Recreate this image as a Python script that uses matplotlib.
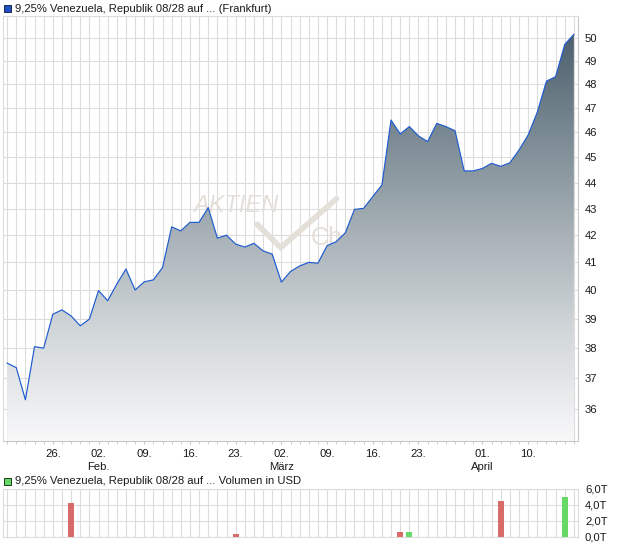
import numpy as np
import matplotlib
matplotlib.use("Agg")
import matplotlib.pyplot as plt
from matplotlib.colors import LinearSegmentedColormap
from matplotlib.ticker import FixedLocator, FixedFormatter, NullLocator
from matplotlib.patches import Rectangle

plt.rcParams['font.family'] = ['Liberation Sans', 'DejaVu Sans']

# ---------------- data ----------------
prices = [37.50, 37.35, 36.30, 38.05, 38.00, 39.16, 39.31, 39.10, 38.76, 38.99,
          39.99, 39.63, 40.22, 40.76, 40.01, 40.30, 40.37, 40.81, 42.31, 42.16,
          42.48, 42.48, 43.04, 41.89, 42.00, 41.67, 41.56, 41.70, 41.42, 41.30,
          40.29, 40.67, 40.87, 41.00, 40.97, 41.61, 41.76, 42.09, 42.97, 43.01,
          43.46, 43.91, 46.51, 45.94, 46.24, 45.86, 45.63, 46.37, 46.24, 46.07,
          44.46, 44.46, 44.56, 44.76, 44.64, 44.78, 45.29, 45.90, 46.84, 48.14,
          48.33, 49.73, 50.18]
date_tick_pos = [5, 10, 15, 20, 25, 30, 35, 40, 45, 52, 57]
date_tick_labels = ["26.", "02.\nFeb.", "09.", "16.", "23.", "02.\nMärz",
                    "09.", "16.", "23.", "01.\nApril", "10."]
price_ticks = [36, 37, 38, 39, 40, 41, 42, 43, 44, 45, 46, 47, 48, 49, 50]
vol_days = [7, 25, 43, 44, 54, 61]
vol_values = [4.2, 0.4, 0.6, 0.6, 4.55, 5.05]
vol_colors = ['#d96a6a', '#d96a6a', '#d96a6a', '#66d866', '#d96a6a', '#66d866']
vol_ticks = [0, 2, 4, 6]
vol_tick_labels = ["0,0T", "2,0T", "4,0T", "6,0T"]
title_main = "9,25% Venezuela, Republik 08/28 auf ... (Frankfurt)"
title_vol = "9,25% Venezuela, Republik 08/28 auf ... Volumen in USD"

x = np.arange(len(prices))
grid_c = '#dcdcdc'
txt_c = '#1a1a1a'
fs = 8.15

fig = plt.figure(figsize=(6.2, 5.46), dpi=100)
W, H = 620, 546

def fig_rect(l, t, r, b):
    return [l / W, 1 - b / H, (r - l) / W, (b - t) / H]

# ---------------- main axes ----------------
ax = fig.add_axes(fig_rect(3, 16, 578, 441))
ax.set_yscale('log')
ax.set_xlim(-0.45, len(prices) - 1 + 0.45)
ax.set_ylim(35.0, 51.0)

for xi in x:
    ax.axvline(xi, color=grid_c, lw=0.8, zorder=0)
for v in price_ticks:
    ax.axhline(v, color=grid_c, lw=0.8, zorder=0)

# watermark (behind area)
wm = '#e4dfd9'
ax.text(0.405, 0.553, "AKTIEN", transform=ax.transAxes, fontsize=17, style='italic',
        color=wm, ha='center', va='center', zorder=1)
ax.plot([0.442, 0.483, 0.58], [0.51, 0.455, 0.57], transform=ax.transAxes,
        color=wm, lw=4, solid_capstyle='round', solid_joinstyle='miter', zorder=1)
ax.text(0.535, 0.478, "Check", transform=ax.transAxes, fontsize=18,
        color=wm, ha='left', va='center', zorder=1)

poly = ax.fill_between(x, prices, 35.0, color='none', lw=0, zorder=2)
cmap = LinearSegmentedColormap.from_list(
    'g', ['#f8f8f9', '#d3d8db', '#a5afb5', '#75858f', '#455866'])
grad = np.linspace(0, 1, 256).reshape(-1, 1)
im = ax.imshow(grad, cmap=cmap, extent=[0, 1, 0, 1], transform=ax.transAxes,
               aspect='auto', origin='lower', zorder=2)
im.set_clip_path(poly.get_paths()[0], transform=ax.transData)
ax.plot(x, prices, color='#1e5bd0', lw=0.85, zorder=3)

ax.yaxis.tick_right()
ax.yaxis.set_major_locator(FixedLocator(price_ticks))
ax.yaxis.set_major_formatter(FixedFormatter([str(v) for v in price_ticks]))
ax.yaxis.set_minor_locator(NullLocator())
ax.tick_params(axis='y', which='major', length=0, pad=5, labelsize=fs, labelcolor=txt_c)

ax.xaxis.set_major_locator(FixedLocator(date_tick_pos))
ax.xaxis.set_major_formatter(FixedFormatter(date_tick_labels))
ax.xaxis.set_minor_locator(FixedLocator(x))
ax.tick_params(axis='x', which='major', length=2, color='#c8c8c8', pad=4,
               labelsize=fs, labelcolor=txt_c)
ax.tick_params(axis='x', which='minor', length=2, color='#c8c8c8')
for lbl in ax.get_xticklabels():
    lbl.set_linespacing(1.3)

for s in ['left', 'top']:
    ax.spines[s].set_color(grid_c)
    ax.spines[s].set_linewidth(0.8)
for s in ['right', 'bottom']:
    ax.spines[s].set_color('#c8c8c8')
    ax.spines[s].set_linewidth(0.8)

# ---------------- volume axes ----------------
axv = fig.add_axes(fig_rect(3, 489, 578, 537))
axv.set_xlim(ax.get_xlim())
axv.set_ylim(0, 6)
for xi in x:
    axv.axvline(xi, color=grid_c, lw=0.8, zorder=0)
for v in vol_ticks:
    axv.axhline(v, color=grid_c, lw=0.8, zorder=0)
axv.bar(vol_days, vol_values, width=0.65, color=vol_colors, zorder=2)
axv.yaxis.tick_right()
axv.yaxis.set_major_locator(FixedLocator(vol_ticks))
axv.yaxis.set_major_formatter(FixedFormatter(vol_tick_labels))
axv.tick_params(axis='y', length=0, pad=5, labelsize=fs, labelcolor=txt_c)
axv.set_xticks([])
for s in axv.spines.values():
    s.set_color(grid_c)
    s.set_linewidth(0.8)

# ---------------- headers ----------------
fig.patches.append(Rectangle((3.5 / W, 1 - 12 / H), 7.5 / W, 7.5 / H,
                             transform=fig.transFigure, facecolor='#1f4fc0',
                             edgecolor='#1a2a55', lw=0.7))
fig.text(15 / W, 1 - 8.5 / H, title_main, fontsize=fs, color=txt_c, va='center', ha='left')
fig.patches.append(Rectangle((3.5 / W, 1 - 485 / H), 7.5 / W, 7.5 / H,
                             transform=fig.transFigure, facecolor='#66d866',
                             edgecolor='#1f3a1f', lw=0.7))
fig.text(15 / W, 1 - 481.5 / H, title_vol, fontsize=fs, color=txt_c, va='center', ha='left')

fig.savefig('out.png', dpi=100)
